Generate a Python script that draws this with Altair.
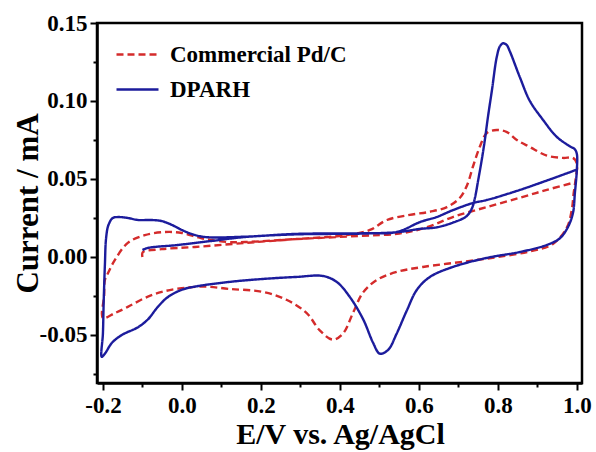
import altair as alt
import pandas as pd

series_names = ["Commercial Pd/C", "DPARH"]
colors = ["#d42b2b", "#1c1c9c"]

# DPARH (blue solid) path, in scan order
dparh_e = [-0.1, -0.086, -0.01, 0.076, 0.16, 0.29, 0.46, 0.55, 0.603, 0.645, 0.686, 0.72, 0.734,
           0.742, 0.75, 0.759, 0.767, 0.775, 0.785, 0.797, 0.805, 0.813, 0.822, 0.830, 0.856,
           0.881, 0.914, 0.949, 0.982, 0.995, 1.0, 1.0, 0.995, 0.99, 0.977, 0.957, 0.924, 0.856,
           0.772, 0.686, 0.628, 0.595, 0.57, 0.544, 0.522, 0.501, 0.484, 0.459, 0.425, 0.392,
           0.357, 0.29, 0.205, 0.12, 0.033, 0.0, -0.035, -0.061, -0.086, -0.111, -0.152, -0.177,
           -0.195, -0.203, -0.2, -0.198, -0.195, -0.192, -0.186, -0.175, -0.162, -0.137, -0.111,
           -0.076, -0.051, -0.025, 0.0, 0.025, 0.058, 0.16, 0.29, 0.46, 0.544, 0.603, 0.645,
           0.686, 0.737, 0.772, 0.856, 0.924, 1.0]
dparh_i = [0.0045, 0.0058, 0.0077, 0.0103, 0.0128, 0.0145, 0.015, 0.016, 0.018, 0.019, 0.022, 0.026,
           0.031, 0.038, 0.049, 0.062, 0.075, 0.090, 0.107, 0.128, 0.135, 0.137, 0.136, 0.132,
           0.115, 0.100, 0.088, 0.077, 0.071, 0.069, 0.066, 0.056, 0.041, 0.028, 0.019, 0.012,
           0.0077, 0.0032, -0.0006, -0.0064, -0.0128, -0.021, -0.034, -0.049, -0.0596, -0.062,
           -0.055, -0.040, -0.0256, -0.016, -0.0122, -0.0128, -0.0141, -0.016, -0.019, -0.021,
           -0.0256, -0.032, -0.040, -0.045, -0.050, -0.055, -0.062, -0.064, -0.049, -0.028,
           -0.005, 0.012, 0.0205, 0.025, 0.0256, 0.025, 0.0237, 0.0237, 0.023, 0.0205, 0.0173,
           0.0147, 0.0128, 0.013, 0.0148, 0.0152, 0.016, 0.0224, 0.0256, 0.030, 0.0346, 0.0365,
           0.043, 0.049, 0.056]

# Commercial Pd/C (red dashed) path, in scan order
pdc_e = [-0.1, -0.099, -0.051, 0.033, 0.16, 0.29, 0.418, 0.476, 0.519, 0.577, 0.628, 0.671, 0.704,
         0.722, 0.737, 0.754, 0.772, 0.797, 0.823, 0.848, 0.881, 0.924, 0.965, 0.99, 1.0, 0.997,
         0.992, 0.987, 0.975, 0.94, 0.88, 0.8, 0.729, 0.61, 0.544, 0.494, 0.458, 0.433, 0.408,
         0.382, 0.349, 0.316, 0.266, 0.205, 0.12, 0.058, 0.0, -0.051, -0.094, -0.137, -0.17,
         -0.2, -0.197, -0.195, -0.187, -0.17, -0.137, -0.094, -0.043, 0.0, 0.05, 0.116, 0.16,
         0.29, 0.45, 0.55, 0.62, 0.686, 0.772, 0.856, 0.924, 0.997]
pdc_i = [0.0, 0.003, 0.005, 0.0064, 0.009, 0.0115, 0.014, 0.0173, 0.0237, 0.027, 0.029, 0.032, 0.038,
         0.046, 0.058, 0.0705, 0.0795, 0.0814, 0.080, 0.075, 0.0705, 0.065, 0.0635, 0.0635, 0.060,
         0.050, 0.041, 0.030, 0.019, 0.0085, 0.0035, 0.0, -0.0025, -0.0064, -0.0096, -0.0147,
         -0.023, -0.036, -0.049, -0.053, -0.047, -0.036, -0.0276, -0.0224, -0.0205, -0.019,
         -0.020, -0.0224, -0.0263, -0.032, -0.036, -0.039, -0.025, -0.0147, -0.0103, -0.002,
         0.009, 0.014, 0.016, 0.0154, 0.012, 0.0096, 0.0096, 0.0115, 0.0135, 0.015, 0.019,
         0.0256, 0.032, 0.038, 0.043, 0.048]

x_ticks = [-0.2, -0.1, 0.0, 0.1, 0.2, 0.3, 0.4, 0.5, 0.6, 0.7, 0.8, 0.9, 1.0]
y_ticks = [-0.075, -0.05, -0.025, 0.0, 0.025, 0.05, 0.075, 0.1, 0.125, 0.15]

rows = []
for name, es, cs in [(series_names[0], pdc_e, pdc_i), (series_names[1], dparh_e, dparh_i)]:
    for k, (e, c) in enumerate(zip(es, cs)):
        rows.append({"series": name, "E": e, "I": c, "idx": k})
df = pd.DataFrame(rows)

FONT = "Liberation Serif"
x_major = "abs(datum.value*5 - round(datum.value*5)) < 0.001"
y_major = "abs(datum.value*20 - round(datum.value*20)) < 0.001"

chart = alt.Chart(df).mark_line(strokeWidth=2.4, interpolate="catmull-rom").encode(
    x=alt.X("E:Q", scale=alt.Scale(domain=[-0.215, 1.013], nice=False, zero=False),
            axis=alt.Axis(title="E/V vs. Ag/AgCl", values=x_ticks,
                          labelExpr=f"{x_major} ? (datum.value < -0.001 ? '-' : '') + format(abs(datum.value), '.1f') : ''",
                          tickSize={"condition": {"test": x_major, "value": 7}, "value": 4},
                          labelPadding=4, titleX=243, titleY=60, titleBaseline="alphabetic",
                          titleFontSize=30)),
    y=alt.Y("I:Q", scale=alt.Scale(domain=[-0.0808, 0.15], nice=False, zero=False),
            axis=alt.Axis(title="Current / mA", values=y_ticks,
                          labelExpr=f"{y_major} ? (datum.value < -0.001 ? '-' : '') + format(abs(datum.value), '.2f') : ''",
                          tickSize={"condition": {"test": y_major, "value": 7}, "value": 4},
                          labelPadding=3, titleX=-60, titleY=180, titleBaseline="alphabetic",
                          titleAngle=270, titleFontSize=31)),
    color=alt.Color("series:N", scale=alt.Scale(domain=series_names, range=colors),
                    legend=alt.Legend(title=None, orient="none", legendX=18, legendY=9)),
    strokeDash=alt.StrokeDash("series:N", scale=alt.Scale(domain=series_names, range=[[7, 4], [1, 0]]),
                              legend=alt.Legend(title=None, orient="none", legendX=18, legendY=9)),
    order=alt.Order("idx:Q"),
).properties(
    width=485, height=360,
    autosize=alt.AutoSizeParams(type="none"),
    padding={"left": 97, "top": 23, "right": 14, "bottom": 69},
).configure_view(
    stroke="black", strokeWidth=2.5
).configure_axis(
    grid=False, domainColor="black", domainWidth=2.5, tickColor="black", tickWidth=2,
    labelFont=FONT, labelFontWeight="bold", labelFontSize=23, labelColor="black",
    titleFont=FONT, titleFontWeight="bold", titleColor="black",
).configure_legend(
    symbolType="stroke", symbolSize=1764, symbolStrokeWidth=2.5,
    labelFont=FONT, labelFontWeight="bold", labelFontSize=23, labelColor="black",
    labelOffset=10, rowPadding=-4, padding=0, labelLimit=400,
)

chart.save("out.html", embed_options={"renderer": "svg", "actions": False})
